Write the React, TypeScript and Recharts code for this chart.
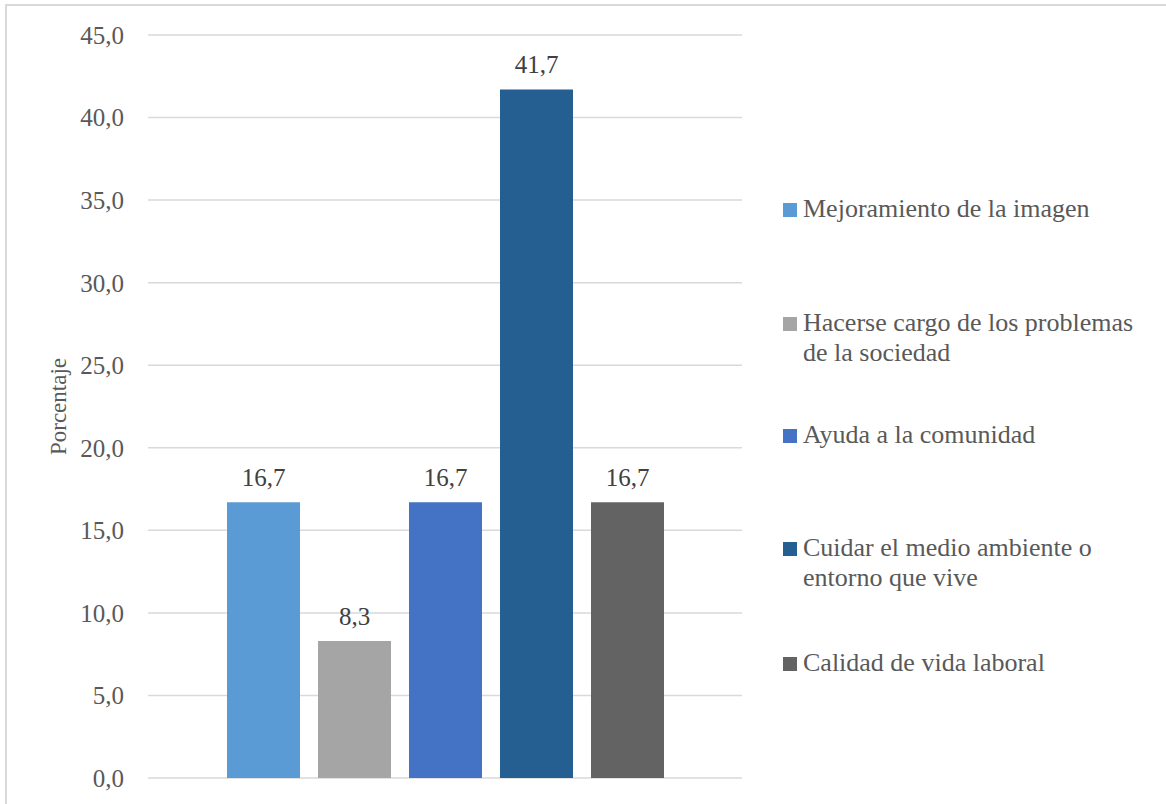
import React from 'react';
import { BarChart, Bar, XAxis, YAxis, CartesianGrid, LabelList, Legend } from 'recharts';

const series = [
  'Mejoramiento de la imagen',
  'Hacerse cargo de los problemas de la sociedad',
  'Ayuda a la comunidad',
  'Cuidar el medio ambiente o entorno que vive',
  'Calidad de vida laboral',
];
const values = [16.7, 8.3, 16.7, 41.7, 16.7];
const colors = ['#5B9BD5', '#A5A5A5', '#4472C4', '#255E91', '#636363'];
const yTicks = [0, 5, 10, 15, 20, 25, 30, 35, 40, 45];

// one row, one key per series
const row: Record<string, number | string> = { name: '' };
series.forEach((s, i) => {
  row[s] = values[i];
});
const data = [row];

const FONT = 'Liberation Serif, Tinos, DejaVu Serif, Noto Serif, Times New Roman, serif';
const fmt = (v: any) => Number(v).toFixed(1).replace('.', ',');

// top of each legend entry (px, inside the legend box)
const legendTops = [194, 308, 420, 533, 648];

const ChartLegend = () => (
  <div style={{ position: 'relative', width: 383, height: 760, fontFamily: FONT }}>
    {series.map((s, i) => (
      <div
        key={s}
        style={{
          position: 'absolute',
          top: legendTops[i],
          left: 0,
          display: 'flex',
          alignItems: 'flex-start',
        }}
      >
        <span
          style={{
            display: 'inline-block',
            width: 14,
            height: 14,
            marginTop: 9,
            marginRight: 6,
            background: colors[i],
            flexShrink: 0,
          }}
        />
        <span style={{ fontSize: 26, lineHeight: '30px', color: '#595959', width: 350 }}>{s}</span>
      </div>
    ))}
  </div>
);

export default function App() {
  return (
    <div
      style={{
        position: 'fixed',
        left: 0,
        top: 0,
        width: 1166,
        height: 804,
        overflow: 'hidden',
        background: '#fff',
      }}
    >
      <div
        style={{
          position: 'absolute',
          left: 5,
          top: 4,
          width: 1200,
          height: 900,
          border: '2px solid #d9d9d9',
        }}
      />
      <div style={{ position: 'absolute', left: 0, top: 0 }}>
        <BarChart
          width={1166}
          height={804}
          data={data}
          margin={{ top: 35, right: 424, bottom: 26, left: 28 }}
          barSize={73}
          barGap={18}
        >
          <CartesianGrid vertical={false} stroke="#d9d9d9" strokeWidth={1.5} />
          <XAxis dataKey="name" hide />
          <YAxis
            width={120}
            domain={[0, 45]}
            ticks={yTicks}
            interval={0}
            tickFormatter={fmt}
            axisLine={false}
            tickLine={false}
            tickMargin={18}
            tick={{ fill: '#595959', fontSize: 25, fontFamily: FONT }}
            label={{
              value: 'Porcentaje',
              angle: -90,
              position: 'insideLeft',
              offset: 0,
              dx: 30,
              style: { fill: '#595959', fontSize: 23, fontFamily: FONT, textAnchor: 'middle' },
            }}
          />
          <Legend
            layout="vertical"
            align="center"
            verticalAlign="middle"
            content={() => <ChartLegend />}
            wrapperStyle={{ position: 'absolute', left: 783, top: 0, width: 383, height: 760 }}
          />
          {series.map((s, i) => (
            <Bar key={s} dataKey={s} fill={colors[i]} isAnimationActive={false}>
              <LabelList
                dataKey={s}
                position="top"
                offset={16}
                formatter={fmt}
                fill="#404040"
                fontSize={25}
                fontFamily={FONT}
              />
            </Bar>
          ))}
        </BarChart>
      </div>
    </div>
  );
}
